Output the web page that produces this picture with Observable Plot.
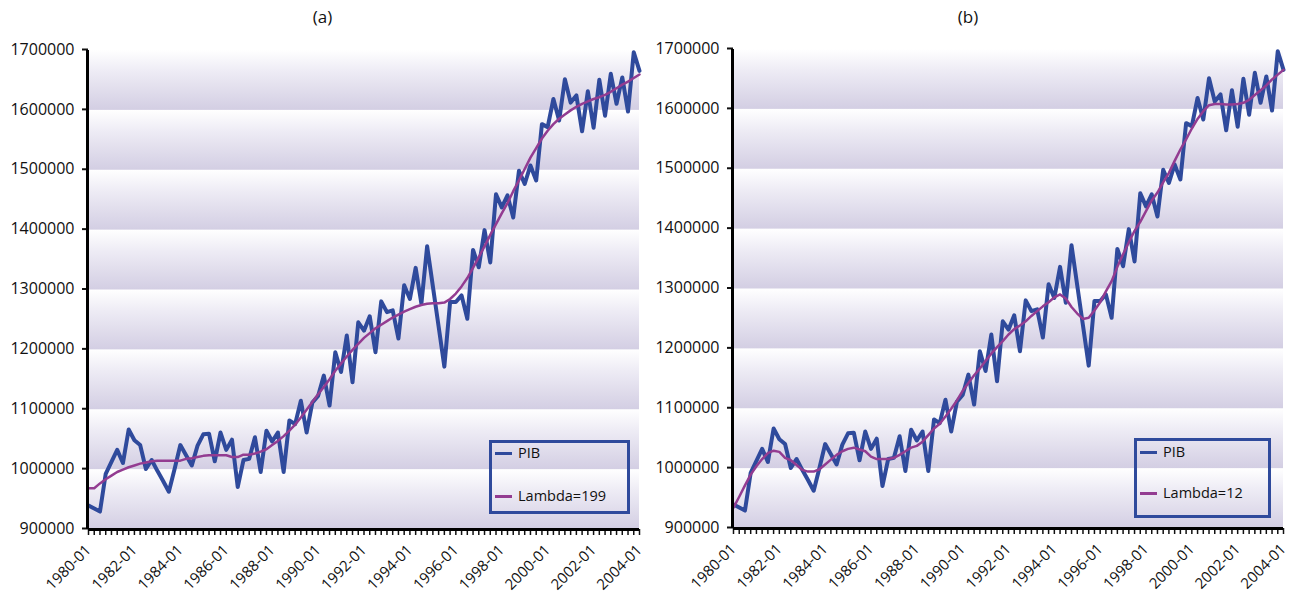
<!DOCTYPE html>
<html><head><meta charset="utf-8">
<script src="https://cdn.jsdelivr.net/npm/d3@7"></script>
<script src="https://cdn.jsdelivr.net/npm/@observablehq/plot@0.6"></script>
<style>
html,body{margin:0;padding:0;background:#fff;}
body{width:1291px;height:595px;position:relative;overflow:hidden;font-family:"Open Sans",sans-serif;color:#111;}
.panel{position:absolute;top:0;}
.title{text-align:center;font-size:17px;height:34px;line-height:34px;}
.legend{position:absolute;border:3px solid #2f4a9c;box-sizing:border-box;}
.item{position:absolute;left:3px;font-size:14.5px;line-height:18px;height:18px;white-space:nowrap;}
.sw{display:inline-block;width:17px;height:3px;vertical-align:middle;margin-right:6px;position:relative;top:-1px;}
</style></head><body>
<div id="a" class="panel" style="left:0;width:645px"><div class="title">(a)</div></div>
<div id="b" class="panel" style="left:645px;width:646px"><div class="title" style="height:33px;line-height:33px">(b)</div></div>
<script>
const quarters = [
"1980-01","1980-04","1980-07","1980-10","1981-01","1981-04","1981-07","1981-10",
"1982-01","1982-04","1982-07","1982-10","1983-01","1983-04","1983-07","1983-10",
"1984-01","1984-04","1984-07","1984-10","1985-01","1985-04","1985-07","1985-10",
"1986-01","1986-04","1986-07","1986-10","1987-01","1987-04","1987-07","1987-10",
"1988-01","1988-04","1988-07","1988-10","1989-01","1989-04","1989-07","1989-10",
"1990-01","1990-04","1990-07","1990-10","1991-01","1991-04","1991-07","1991-10",
"1992-01","1992-04","1992-07","1992-10","1993-01","1993-04","1993-07","1993-10",
"1994-01","1994-04","1994-07","1994-10","1995-01","1995-04","1995-07","1995-10",
"1996-01","1996-04","1996-07","1996-10","1997-01","1997-04","1997-07","1997-10",
"1998-01","1998-04","1998-07","1998-10","1999-01","1999-04","1999-07","1999-10",
"2000-01","2000-04","2000-07","2000-10","2001-01","2001-04","2001-07","2001-10",
"2002-01","2002-04","2002-07","2002-10","2003-01","2003-04","2003-07","2003-10",
"2004-01"];

const pib = [
940000,935000,930000,993000,1013000,1033000,1011000,1067000,
1049000,1041000,1001000,1016000,998000,981000,963000,1001000,
1041000,1024000,1007000,1040000,1059000,1060000,1014000,1062000,
1033000,1050000,971000,1016000,1018000,1054000,996000,1065000,
1047000,1062000,996000,1082000,1076000,1115000,1062000,1112000,
1123000,1157000,1107000,1196000,1163000,1224000,1146000,1246000,
1232000,1256000,1196000,1281000,1263000,1266000,1219000,1308000,
1285000,1337000,1277000,1373000,1306000,1239000,1172000,1280000,
1280000,1291000,1252000,1367000,1338000,1400000,1346000,1460000,
1438000,1458000,1421000,1499000,1477000,1508000,1483000,1577000,
1572000,1619000,1583000,1652000,1613000,1625000,1565000,1632000,
1571000,1651000,1591000,1661000,1611000,1655000,1598000,1697000,
1666000];

const trend199 = [
969000,969000,977000,984000,990000,996000,1000000,1004000,
1007000,1010000,1012000,1014000,1015000,1015000,1015000,1015000,
1015000,1018000,1019000,1021000,1023000,1024000,1024000,1024000,
1024000,1021000,1021000,1025000,1025000,1027000,1030000,1034000,
1041000,1048000,1056000,1065000,1075000,1087000,1100000,1113000,
1126000,1138000,1151000,1165000,1177000,1189000,1200000,1210000,
1220000,1228000,1236000,1242000,1248000,1254000,1259000,1264000,
1268000,1272000,1275000,1277000,1278000,1278000,1279000,1285000,
1294000,1306000,1320000,1337000,1355000,1373000,1392000,1410000,
1428000,1445000,1465000,1483000,1502000,1521000,1537000,1553000,
1566000,1577000,1586000,1593000,1600000,1606000,1611000,1615000,
1619000,1622000,1626000,1631000,1637000,1643000,1648000,1654000,
1660000];

const trend12 = [
935000,953000,972000,990000,1004000,1016000,1026000,1030000,
1028000,1018000,1014000,1006000,998000,995000,995000,999000,
1007000,1015000,1023000,1029000,1033000,1035000,1032000,1029000,
1020000,1016000,1016000,1016000,1018000,1023000,1029000,1035000,
1038000,1045000,1056000,1067000,1075000,1087000,1100000,1114000,
1130000,1143000,1156000,1167000,1180000,1192000,1203000,1213000,
1224000,1233000,1239000,1246000,1255000,1263000,1271000,1278000,
1286000,1291000,1284000,1270000,1259000,1250000,1252000,1264000,
1278000,1296000,1313000,1337000,1358000,1378000,1397000,1412000,
1430000,1448000,1461000,1478000,1494000,1514000,1533000,1550000,
1568000,1584000,1597000,1607000,1609000,1609000,1608000,1608000,
1609000,1611000,1616000,1624000,1632000,1640000,1650000,1658000,
1666000];

const xTickLabels = ["1980-01","1982-01","1984-01","1986-01","1988-01","1990-01",
"1992-01","1994-01","1996-01","1998-01","2000-01","2002-01","2004-01"];
const yTicks = [900000,1000000,1100000,1200000,1300000,1400000,1500000,1600000,1700000];
const yTickLabels = ["900000","1000000","1100000","1200000","1300000","1400000","1500000","1600000","1700000"];
const seriesNames = ["PIB"];
const lambdaNames = ["Lambda=199","Lambda=12"];

const BLUE = "#2f4a9c", PURPLE = "#933c91";

function makePanel(el, trend, width, mr, gid) {
  const rows = quarters.map((q, i) => ({q, pib: pib[i], trend: trend[i]}));
  const bands = yTicks.slice(0, -1).map((v, i) => ({y1: v, y2: yTicks[i + 1]}));
  const svg = Plot.plot({
    width, height: 561,
    marginLeft: 88, marginRight: mr, marginTop: 16, marginBottom: 66,
    style: {fontFamily: "Open Sans", fontSize: "15px", color: "#111", background: "transparent", overflow: "visible"},
    x: {type: "point", domain: quarters, padding: 0, axis: null, label: null},
    y: {domain: [900000, 1700000], axis: null, label: null},
    marks: [
      Plot.rect(bands, {y1: "y1", y2: "y2", fill: `url(#${gid})`}),
      Plot.line(rows, {x: "q", y: "pib", stroke: "#7d74b8", strokeWidth: 10, strokeOpacity: 0.35, dx: 5, dy: 8, ariaLabel: "shadow"}),
      Plot.line(rows, {x: "q", y: "pib", stroke: BLUE, strokeWidth: 4, strokeLinejoin: "round"}),
      Plot.line(rows, {x: "q", y: "trend", stroke: PURPLE, strokeWidth: 2.5}),
      Plot.axisY({ticks: yTicks, tickFormat: d => yTickLabels[yTicks.indexOf(d)], tickSize: 6, tickPadding: 8, fontSize: 16, strokeWidth: 2, dy: -1, label: null}),
      Plot.axisX({ticks: quarters, tickFormat: () => "", tickSize: 6, strokeWidth: 1.5, label: null}),
      Plot.axisX({ticks: xTickLabels, tickSize: 0, tickRotate: -45, tickPadding: 18, fontSize: 15, label: null}),
      Plot.ruleY([900000], {stroke: "#000", strokeWidth: 3}),
      Plot.ruleX([quarters[0]], {stroke: "#000", strokeWidth: 3, dx: -1})
    ]
  });
  const s = d3.select(svg);
  const defs = s.insert("defs", ":first-child");
  const g = defs.append("linearGradient").attr("id", gid).attr("x1", 0).attr("y1", 0).attr("x2", 0).attr("y2", 1);
  g.append("stop").attr("offset", "0%").attr("stop-color", "#ffffff");
  g.append("stop").attr("offset", "35%").attr("stop-color", "#eeecf5");
  g.append("stop").attr("offset", "100%").attr("stop-color", "#d3cee3");
  s.selectAll('g[aria-label="shadow"]').style("filter", "blur(6px)");
  el.appendChild(svg);
}

makePanel(document.getElementById("a"), trend199, 645, 6, "bandA");
makePanel(document.getElementById("b"), trend12, 646, 8, "bandB");

function legend(left, top, w, h, y1, y2, label2) {
  const box = document.createElement("div");
  box.className = "legend";
  Object.assign(box.style, {left: left + "px", top: top + "px", width: w + "px", height: h + "px"});
  const items = [[seriesNames[0], BLUE, y1], [label2, PURPLE, y2]];
  for (const [t, c, y] of items) {
    const it = document.createElement("div");
    it.className = "item";
    it.style.top = y + "px";
    it.innerHTML = `<span class="sw" style="background:${c}"></span>${t}`;
    box.appendChild(it);
  }
  document.body.appendChild(box);
}
legend(489, 440, 141, 74, 1, 44, lambdaNames[0]);
legend(1134, 438, 137, 80, 2, 43, lambdaNames[1]);
</script>
</body></html>
